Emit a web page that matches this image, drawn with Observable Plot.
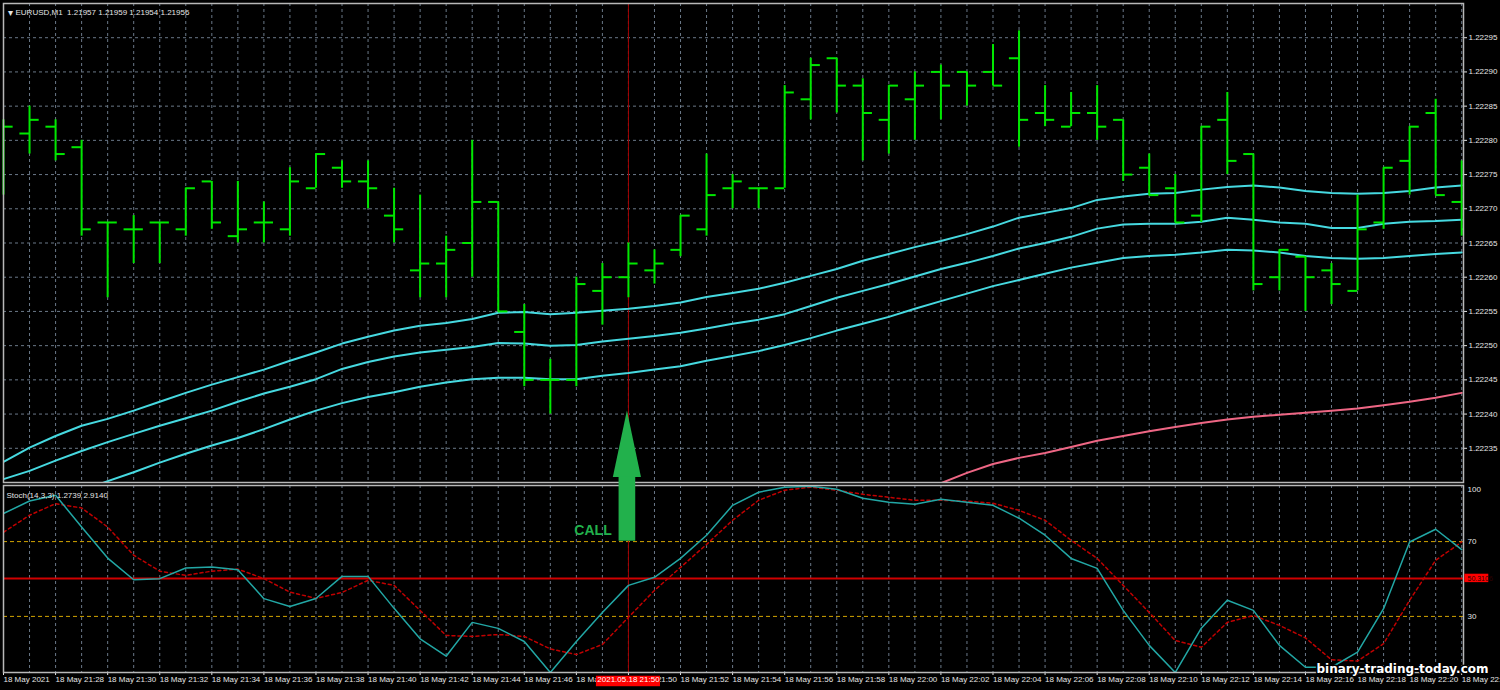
<!DOCTYPE html>
<html><head><meta charset="utf-8">
<script src="https://cdn.jsdelivr.net/npm/d3@7"></script>
<script src="https://cdn.jsdelivr.net/npm/@observablehq/plot@0.6"></script>
<style>
html,body{margin:0;padding:0;background:#000;overflow:hidden;}
#chart{position:relative;width:1500px;height:690px;background:#000;}
#chart svg{position:absolute;left:0;top:0;}
</style></head><body><div id="chart"></div>
<script>
// ---- data ----
const barTimes = ["21:26","21:27","21:28","21:29","21:30","21:31","21:32","21:33","21:34","21:35","21:36","21:37","21:38","21:39","21:40","21:41","21:42","21:43","21:44","21:45","21:46","21:47","21:48","21:49","21:50","21:51","21:52","21:53","21:54","21:55","21:56","21:57","21:58","21:59","22:00","22:01","22:02","22:03","22:04","22:05","22:06","22:07","22:08","22:09","22:10","22:11","22:12","22:13","22:14","22:15","22:16","22:17","22:18","22:19","22:20","22:21","22:22"];
const openP  = [1.22279,1.22281,1.22282,1.22279,1.22268,1.22267,1.22268,1.22267,1.22274,1.22266,1.22268,1.22267,1.22273,1.22276,1.22274,1.22269,1.22261,1.22262,1.22265,1.22271,1.22252,1.22245,1.22245,1.22258,1.22260,1.22261,1.22264,1.22267,1.22273,1.22273,1.22273,1.22286,1.22292,1.22288,1.22283,1.22286,1.22290,1.22290,1.22290,1.22292,1.22284,1.22282,1.22284,1.22283,1.22276,1.22273,1.22269,1.22283,1.22278,1.22260,1.22263,1.22261,1.22258,1.22268,1.22277,1.22284,1.22271];
const highP  = [1.22283,1.22285,1.22283,1.22280,1.22268,1.22269,1.22268,1.22273,1.22274,1.22274,1.22271,1.22276,1.22278,1.22277,1.22277,1.22273,1.22272,1.22266,1.22280,1.22271,1.22256,1.22248,1.22260,1.22262,1.22265,1.22264,1.22269,1.22278,1.22275,1.22273,1.22288,1.22292,1.22292,1.22289,1.22288,1.22290,1.22291,1.22290,1.22294,1.22296,1.22288,1.22287,1.22288,1.22283,1.22278,1.22275,1.22282,1.22287,1.22278,1.22264,1.22263,1.22262,1.22272,1.22276,1.22282,1.22286,1.22277];
const lowP   = [1.22272,1.22278,1.22277,1.22266,1.22257,1.22262,1.22262,1.22266,1.22267,1.22265,1.22265,1.22266,1.22273,1.22273,1.22270,1.22265,1.22257,1.22257,1.22260,1.22255,1.22244,1.22240,1.22244,1.22253,1.22257,1.22259,1.22263,1.22266,1.22270,1.22270,1.22273,1.22283,1.22284,1.22277,1.22278,1.22280,1.22283,1.22285,1.22288,1.22279,1.22282,1.22282,1.22280,1.22274,1.22272,1.22268,1.22268,1.22275,1.22258,1.22258,1.22255,1.22256,1.22258,1.22267,1.22272,1.22272,1.22266];
const closeP = [1.22282,1.22283,1.22278,1.22267,1.22268,1.22267,1.22268,1.22273,1.22268,1.22267,1.22268,1.22274,1.22278,1.22274,1.22273,1.22267,1.22262,1.22264,1.22271,1.22255,1.22245,1.22245,1.22259,1.22260,1.22262,1.22262,1.22269,1.22272,1.22274,1.22273,1.22287,1.22291,1.22288,1.22284,1.22288,1.22288,1.22288,1.22288,1.22288,1.22283,1.22283,1.22284,1.22282,1.22275,1.22272,1.22268,1.22282,1.22277,1.22259,1.22264,1.22260,1.22259,1.22267,1.22276,1.22282,1.22272,1.22267];

const maUpper  = [1.222330,1.222351,1.222368,1.222383,1.222393,1.222405,1.222418,1.222431,1.222443,1.222454,1.222465,1.222478,1.222490,1.222503,1.222513,1.222522,1.222529,1.222533,1.222539,1.222548,1.222549,1.222546,1.222548,1.222551,1.222554,1.222558,1.222563,1.222571,1.222577,1.222583,1.222592,1.222602,1.222612,1.222624,1.222634,1.222644,1.222653,1.222663,1.222674,1.222687,1.222694,1.222701,1.222713,1.222718,1.222722,1.222723,1.222728,1.222732,1.222734,1.222731,1.222726,1.222723,1.222722,1.222723,1.222726,1.222731,1.222734];
const maMiddle = [1.222305,1.222317,1.222332,1.222346,1.222359,1.222371,1.222383,1.222394,1.222405,1.222418,1.222430,1.222440,1.222451,1.222466,1.222476,1.222484,1.222490,1.222494,1.222498,1.222504,1.222503,1.222500,1.222501,1.222506,1.222510,1.222514,1.222519,1.222525,1.222532,1.222538,1.222546,1.222558,1.222570,1.222580,1.222590,1.222601,1.222612,1.222621,1.222631,1.222642,1.222650,1.222659,1.222671,1.222677,1.222678,1.222678,1.222681,1.222687,1.222684,1.222680,1.222678,1.222672,1.222672,1.222678,1.222681,1.222682,1.222684];
const maLower  = [1.222244,1.222259,1.222273,1.222288,1.222302,1.222315,1.222329,1.222342,1.222354,1.222365,1.222378,1.222392,1.222405,1.222416,1.222425,1.222432,1.222440,1.222446,1.222451,1.222453,1.222453,1.222451,1.222451,1.222456,1.222460,1.222465,1.222470,1.222478,1.222485,1.222492,1.222501,1.222511,1.222522,1.222532,1.222542,1.222554,1.222565,1.222576,1.222587,1.222596,1.222605,1.222614,1.222621,1.222628,1.222631,1.222633,1.222636,1.222640,1.222639,1.222636,1.222631,1.222628,1.222627,1.222628,1.222631,1.222634,1.222636];
const maSlowFirstBar = 36;
const maSlow = [1.222299,1.222314,1.222327,1.222336,1.222343,1.222352,1.222361,1.222368,1.222375,1.222381,1.222387,1.222392,1.222396,1.222399,1.222402,1.222405,1.222408,1.222413,1.222418,1.222424,1.222431];

const stochMain   = [85.0,91.7,94.8,77.8,61.2,49.6,50.2,55.9,56.4,55.0,39.5,35.3,39.6,51.4,51.4,34.3,18.0,8.7,26.8,23.6,16.6,0.0,16.6,32.1,46.6,50.9,61.0,73.4,89.4,96.4,99.1,99.6,98.0,93.2,91.0,90.0,92.6,91.0,89.4,82.5,73.4,61.0,55.7,33.2,14.5,0.0,23.7,38.6,33.2,14.5,2.8,2.8,10.9,34.1,69.8,76.6,65.7];
const stochSignal = [75.0,84.1,90.3,88.0,77.8,62.7,54.2,51.9,54.2,55.3,50.2,43.0,39.6,42.8,49.3,46.6,33.2,19.8,19.3,20.3,19.3,12.6,9.6,15.0,29.5,43.9,56.2,68.5,81.4,92.1,97.5,99.1,97.5,95.3,93.7,92.1,92.1,91.6,90.5,86.7,81.4,70.7,61.0,46.6,32.1,17.1,13.5,26.8,30.5,25.2,18.5,6.8,6.1,15.4,38.6,60.0,69.8];

const priceTicks = [1.22235,1.22240,1.22245,1.22250,1.22255,1.22260,1.22265,1.22270,1.22275,1.22280,1.22285,1.22290,1.22295];
const stochLevels = [70, 30];
const stochAxisTop = [100], stochAxisMid = [70, 30], stochAxisBottom = [0];
const stochCurrent = 50.3106;
const labelBars = [0,2,4,6,8,10,12,14,16,18,20,22,24,26,28,30,32,34,36,38,40,42,44,46,48,50,52,54,56];
const timeLabels = ["18 May 2021","18 May 21:28","18 May 21:30","18 May 21:32","18 May 21:34","18 May 21:36","18 May 21:38","18 May 21:40","18 May 21:42","18 May 21:44","18 May 21:46","18 May 21:48","18 May 21:50","18 May 21:52","18 May 21:54","18 May 21:56","18 May 21:58","18 May 22:00","18 May 22:02","18 May 22:04","18 May 22:06","18 May 22:08","18 May 22:10","18 May 22:12","18 May 22:14","18 May 22:16","18 May 22:18","18 May 22:20","18 May 22:22"];
const crossBar = 24;
const crossLabel = "2021.05.18 21:50";
const titleText = "EURUSD,M1  1.21957 1.21959 1.21954 1.21956";
const stochTitle = "Stoch(14,3,3) 1.2739 2.9140";
const callText = "CALL";
const watermark = "binary-trading-today.com";

// ---- build ----
const bars = barTimes.map((t, i) => ({i, t, o: openP[i], h: highP[i], l: lowP[i], c: closeP[i]}));
const series = arr => arr.map((v, i) => ({i, v}));
const slow = maSlow.map((v, k) => ({i: maSlowFirstBar + k, v}));
const barIdx = barTimes.map((t, i) => i);
const labels = labelBars.map((b, k) => ({i: b, t: timeLabels[k]}));

const W = 1500, H = 690;
const GREEN = "#00e800", CYAN = "#46d9e0", GRID = "#6a7888", FRAME = "#b8b8b8", TXT = "#e4e4e4";
const FONT = "'Liberation Sans', Arial, sans-serif";
const xOpt = {type: "linear", domain: [0, 56], range: [3, 1461.2]};
const dash = "3,3";

const mainPlot = Plot.plot({
  width: W, height: H,
  marginLeft: 3, marginRight: 37, marginTop: 3, marginBottom: H - 482,
  style: {background: "#000", color: TXT, fontFamily: FONT, fontSize: "8px", overflow: "visible"},
  x: {...xOpt, axis: null},
  y: {domain: [1.2223, 1.2230], axis: "right", ticks: priceTicks, tickSize: 3, tickPadding: 2,
      tickFormat: d3.format(".5f"), label: null},
  marks: [
    Plot.ruleY(priceTicks, {stroke: GRID, strokeDasharray: dash}),
    Plot.ruleX(barIdx.slice(1), {stroke: GRID, strokeDasharray: dash}),
    Plot.ruleX([crossBar], {stroke: "#a00000"}),
    Plot.line(series(maUpper), {x: "i", y: "v", stroke: CYAN, strokeWidth: 2, clip: true}),
    Plot.line(series(maMiddle), {x: "i", y: "v", stroke: CYAN, strokeWidth: 2, clip: true}),
    Plot.line(series(maLower), {x: "i", y: "v", stroke: CYAN, strokeWidth: 2, clip: true}),
    Plot.line(slow, {x: "i", y: "v", stroke: "#ee6684", strokeWidth: 2, clip: true}),
    Plot.ruleX(bars, {x: "i", y1: "l", y2: "h", stroke: GREEN, strokeWidth: 2}),
    Plot.ruleY(bars, {y: "o", x1: d => d.i - 0.37, x2: "i", stroke: GREEN, strokeWidth: 2, clip: true}),
    Plot.ruleY(bars, {y: "c", x1: "i", x2: d => d.i + 0.37, stroke: GREEN, strokeWidth: 2, clip: true}),
    Plot.frame({stroke: FRAME, strokeWidth: 1.5}),
    Plot.text(["\u25BE"], {frameAnchor: "top-left", dx: 4, dy: 5, textAnchor: "start", fontSize: 10}),
    Plot.text([titleText], {frameAnchor: "top-left", dx: 12, dy: 5.5, textAnchor: "start"})
  ]
});

const lvl = (vals, dy) => Plot.text(vals, {y: d => d, text: d => String(d), frameAnchor: "right", dx: 4, dy, textAnchor: "start"});

const stochPlot = Plot.plot({
  width: W, height: H,
  marginLeft: 3, marginRight: 37, marginTop: 485, marginBottom: H - 672,
  style: {background: "transparent", color: TXT, fontFamily: FONT, fontSize: "8px", overflow: "visible"},
  x: {...xOpt, axis: "bottom", ticks: labelBars, tickSize: 3, tickFormat: () => "", label: null},
  y: {domain: [0, 100], axis: null},
  marks: [
    Plot.ruleX(barIdx.slice(1), {stroke: GRID, strokeDasharray: dash}),
    Plot.ruleY(stochLevels, {stroke: "#d2a400", strokeDasharray: "4,3"}),
    Plot.ruleY([stochCurrent], {stroke: "#d00000", strokeWidth: 2}),
    Plot.ruleX([crossBar], {stroke: "#a00000"}),
    Plot.line(series(stochSignal), {x: "i", y: "v", stroke: "#c00000", strokeDasharray: "3,3", clip: true}),
    Plot.line(series(stochMain), {x: "i", y: "v", stroke: "#22a7a5", clip: true}),
    Plot.frame({stroke: FRAME, strokeWidth: 1.5}),
    Plot.text([stochTitle], {frameAnchor: "top-left", dx: 3, dy: 7, textAnchor: "start"}),
    lvl(stochAxisTop, 4), lvl(stochAxisMid, 0), lvl(stochAxisBottom, -5),
    Plot.rect([stochCurrent], {x1: 56.12, x2: 57.04, y1: d => d - 2.25, y2: d => d + 2.25, fill: "#ff0000"}),
    Plot.text([stochCurrent], {y: d => d, text: d => d.toFixed(4), frameAnchor: "right", dx: 4, textAnchor: "start", fill: "#300000", fontSize: 7}),
    Plot.text(labels, {x: "i", text: "t", frameAnchor: "bottom", dy: 9.5, textAnchor: "start"}),
    Plot.rect([crossBar], {x1: d => d - 1.23, x2: d => d + 1.23, y1: -2.0, y2: -7.6, fill: "#ff0000"}),
    Plot.text([crossBar], {x: d => d, text: [crossLabel], frameAnchor: "bottom", dy: 9.5, fill: "#ffffff"}),
    // CALL arrow (stochastic-scale units, drawn across both panes)
    Plot.areaY([{x: crossBar - 0.58, a: 104.3, b: 104.3}, {x: crossBar - 0.04, a: 104.3, b: 139.8}, {x: crossBar + 0.5, a: 104.3, b: 104.3}],
      {x: "x", y1: "a", y2: "b", fill: "#22b14c", curve: "linear"}),
    Plot.rect([{x1: crossBar - 0.36, x2: crossBar + 0.28, y1: 70.2, y2: 104.6}], {x1: "x1", x2: "x2", y1: "y1", y2: "y2", fill: "#22b14c"}),
    Plot.text([{x: 22.64, y: 76, t: callText}], {x: "x", y: "y", text: "t", fill: "#22b14c", fontWeight: "bold", fontSize: 14}),
    Plot.text([watermark], {frameAnchor: "bottom-right", dx: 25, dy: 0, textAnchor: "end", fill: "#ffffff",
      stroke: "#000", strokeWidth: 3, paintOrder: "stroke", fontWeight: "bold", fontSize: 12, fontFamily: "'DejaVu Sans', sans-serif"})
  ]
});

const root = document.getElementById("chart");
root.appendChild(mainPlot);
root.appendChild(stochPlot);
</script></body></html>
